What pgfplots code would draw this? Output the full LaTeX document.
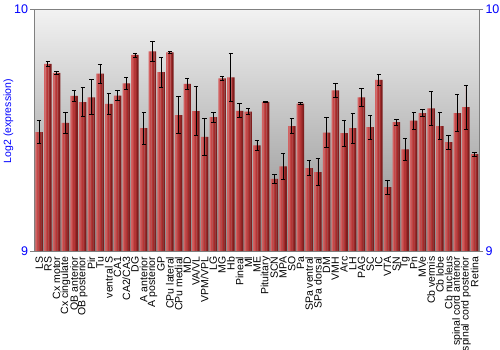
\documentclass[border=0pt]{standalone}
\usepackage{fontspec}
\setmainfont{Liberation Sans}
\usepackage{pgfplots}
\usepackage{pgfplotstable}
\pgfplotsset{compat=1.18}
\definecolor{tickblue}{RGB}{0,0,255}
\definecolor{barA}{RGB}{212,98,98}
\definecolor{barB}{RGB}{196,72,72}
\definecolor{barC}{RGB}{180,54,54}
\definecolor{barD}{RGB}{158,42,42}
\definecolor{barE}{RGB}{128,30,30}
\definecolor{bgtop}{RGB}{242,242,242}
\definecolor{bgbot}{RGB}{138,138,138}
\pgfplotstableread{
x y e
0 9.492 0.047
1 9.774 0.012
2 9.737 0.006
3 9.530 0.045
4 9.642 0.021
5 9.616 0.060
6 9.636 0.072
7 9.734 0.040
8 9.609 0.045
9 9.643 0.021
10 9.694 0.025
11 9.811 0.008
12 9.508 0.065
13 9.826 0.043
14 9.740 0.062
15 9.822 0.003
16 9.562 0.076
17 9.691 0.022
18 9.579 0.100
19 9.472 0.078
20 9.554 0.021
21 9.714 0.009
22 9.718 0.099
23 9.580 0.029
24 9.577 0.011
25 9.437 0.021
26 9.617 0.004
27 9.298 0.018
28 9.350 0.052
29 9.517 0.032
30 9.610 0.004
31 9.343 0.032
32 9.326 0.056
33 9.490 0.062
34 9.665 0.030
35 9.488 0.054
36 9.508 0.061
37 9.636 0.037
38 9.512 0.049
39 9.708 0.023
40 9.264 0.030
41 9.533 0.013
42 9.420 0.045
43 9.539 0.034
44 9.570 0.014
45 9.590 0.070
46 9.517 0.056
47 9.450 0.030
48 9.570 0.076
49 9.595 0.092
50 9.401 0.008
}\data
\begin{document}
\begin{tikzpicture}
\useasboundingbox (0bp,0bp) rectangle (500bp,350bp);
\begin{axis}[
  at={(34.3bp,99bp)}, anchor=south west,
  scale only axis, width=445bp, height=241.7bp,
  xmin=-0.56, xmax=50.53, ymin=9, ymax=10,
  axis background/.style={top color=bgtop, bottom color=bgbot},
  axis line style={draw=gray},
  xtick={0,...,50},
  xticklabels={LS,RS,Cx motor,Cx cingulate,OB anterior,OB posterior,Pir,Tu,ventral S,CA1,CA2/CA3,DG,A anterior,A posterior,GP,CPu lateral,CPu medial,MD,VA/VL,VPM/VPL,LG,MG,Hb,Pineal,Ml,ME,Pituitary,SCN,MPA,SO,Pa,SPa ventral,SPa dorsal,DM,VMH,Arc,LH,PAG,SC,IC,VTA,SN,Tg,Pn,MVe,Cb vermis,Cb lobe,Cb nucleus,spinal cord anterior,spinal cord posterior,Retina},
  x tick label style={rotate=90, anchor=east, font=\fontsize{10.5bp}{11bp}\selectfont, inner sep=1.5bp},
  major x tick style={draw=none},
  ytick={9,10},
  ytick pos=left, yticklabel pos=left,
  tick align=outside,
  major y tick style={draw=gray},
  major tick length=4bp,
  y tick label style={font=\fontsize{12.5bp}{13bp}\selectfont, text=tickblue, inner sep=2bp},
  /pgf/number format/assume math mode=true,
  ylabel={Log2 (expression)},
  every axis y label/.style={at={(axis description cs:-0.0584,0.537)}, rotate=90, anchor=center, font=\fontsize{10.5bp}{11bp}\selectfont, text=tickblue},
  clip=true,
]
\addplot[ybar, bar width=0.18, bar shift=-0.34, draw=none, fill=barA] table[x=x, y=y] {\data};
\addplot[ybar, bar width=0.18, bar shift=-0.17, draw=none, fill=barB] table[x=x, y=y] {\data};
\addplot[ybar, bar width=0.18, bar shift=0.17, draw=none, fill=barD] table[x=x, y=y] {\data};
\addplot[ybar, bar width=0.18, bar shift=0.34, draw=none, fill=barE] table[x=x, y=y] {\data};
\addplot[ybar, bar width=0.18, bar shift=0, draw=none, fill=barC,
  error bars/.cd, y dir=both, y explicit,
  error bar style={draw=black, line width=0.8bp},
  error mark options={draw=black, mark size=2.2bp, rotate=90, line width=0.8bp}]
  table[x=x, y=y, y error=e] {\data};
\end{axis}
\begin{axis}[
  at={(34.3bp,99bp)}, anchor=south west,
  scale only axis, width=445bp, height=241.7bp,
  xmin=-0.56, xmax=50.53, ymin=9, ymax=10,
  axis x line=none, axis y line*=right,
  axis line style={draw=gray, -},
  ytick={9,10}, tick align=outside,
  major y tick style={draw=gray}, major tick length=4bp,
  y tick label style={font=\fontsize{12.5bp}{13bp}\selectfont, text=tickblue, inner sep=2bp},
  /pgf/number format/assume math mode=true,
]
\addplot[draw=none] coordinates {(0,9.5)};
\end{axis}
\end{tikzpicture}
\end{document}
